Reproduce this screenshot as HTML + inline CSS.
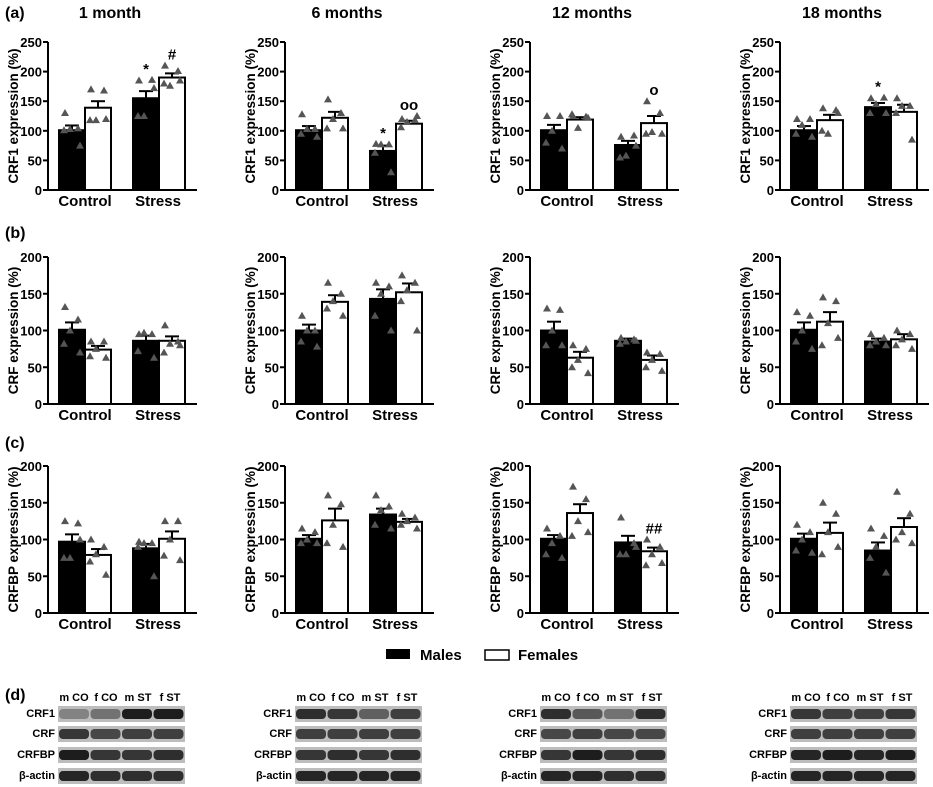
<!DOCTYPE html>
<html><head><meta charset="utf-8"><style>
body{margin:0;background:#fff}
svg{display:block;font-family:"Liberation Sans",Arial,sans-serif;font-weight:bold}
</style></head><body>
<svg id="fig" width="933" height="787" viewBox="0 0 933 787"></svg>
<script>
const ages = ["1 month","6 months","12 months","18 months"];
const rowLabels = ["(a)","(b)","(c)"];
const rowTitles = ["CRF1 expression (%)","CRF expression (%)","CRFBP expression (%)"];
const rowMax = [250,200,200];
const rowTicks = [[0,50,100,150,200,250],[0,50,100,150,200],[0,50,100,150,200]];
const groups = ["Control","Stress"];
const meansA = [[101,139,155,190],[101,122,66,112],[101,119,76,113],[101,118,140,132]];
const meansB = [[101,74,86,86],[100,139,143,152],[100,63,86,60],[101,112,85,88]];
const meansC = [[97,79,88,101],[101,126,134,124],[101,136,96,84],[101,109,85,117]];
const semA = [[8,11,12,7],[7,10,9,5],[9,4,7,12],[7,9,7,12]];
const semB = [[10,5,7,6],[8,9,13,12],[12,8,3,6],[10,13,4,7]];
const semC = [[10,8,6,10],[5,16,8,4],[5,12,9,5],[7,14,11,12]];
const ptsA = [
 [[130,104,103,101,75],[170,168,118,118,120],[185,186,125,125,172],[210,201,176,180,185]],
 [[128,103,103,95,90],[153,130,120,104,104],[78,77,77,63,30],[120,118,115,106,125]],
 [[125,125,100,80,70],[125,124,105,128,122],[90,92,58,55,75],[150,130,98,95,95]],
 [[120,120,110,95,90],[138,135,95,100,130],[155,156,145,130,130],[155,142,142,130,85]]];
const ptsB = [
 [[132,115,100,82,70],[85,85,75,65,63],[95,95,97,72,63],[107,85,82,70,80]],
 [[120,100,100,85,78],[165,150,140,130,120],[165,160,150,120,100],[175,165,155,140,100]],
 [[130,128,100,80,80],[80,75,60,50,42],[90,88,85,82,86],[70,68,60,50,45]],
 [[125,120,100,85,75],[145,140,110,80,90],[95,90,85,80,80],[100,95,88,80,75]]];
const ptsC = [
 [[125,122,75,75,100],[100,90,80,70,52],[97,95,95,90,50],[125,125,100,78,72]],
 [[115,110,100,95,95],[160,148,120,95,90],[160,145,140,120,115],[135,130,125,120,115]],
 [[115,105,95,80,75],[172,155,125,105,110],[130,95,80,80,90],[100,90,80,65,68]],
 [[120,110,100,85,82],[150,135,110,80,90],[115,105,90,75,55],[165,135,110,100,95]]];
const annotA = [["","","*","#"],["","","*","oo"],["","","","o"],["","","*",""]];
const annotB = [["","","",""],["","","",""],["","","",""],["","","",""]];
const annotC = [["","","",""],["","","",""],["","","","##"],["","","",""]];
const lanes = ["m CO","f CO","m ST","f ST"];
const proteins = ["CRF1","CRF","CRFBP","β-actin"];
const bands = [
 [[0.35,0.45,0.95,0.95],[0.8,0.7,0.75,0.75],[0.95,0.8,0.8,0.85],[0.9,0.85,0.85,0.85]],
 [[0.85,0.8,0.55,0.75],[0.75,0.75,0.75,0.75],[0.8,0.85,0.8,0.85],[0.9,0.9,0.9,0.9]],
 [[0.85,0.6,0.45,0.85],[0.7,0.75,0.7,0.7],[0.8,0.95,0.8,0.85],[0.9,0.9,0.85,0.85]],
 [[0.8,0.75,0.75,0.8],[0.75,0.75,0.75,0.75],[0.9,0.95,0.9,0.95],[0.9,0.9,0.9,0.9]]];

const means=[meansA,meansB,meansC], sems=[semA,semB,semC], pts=[ptsA,ptsB,ptsC], annots=[annotA,annotB,annotC];
const axisX=[48,285,530,780];
const rowTop=[42,257,466], rowBot=[190,404,613];
const NS="http://www.w3.org/2000/svg";
const svg=document.getElementById('fig');
function mk(tag,attrs,parent,text){const e=document.createElementNS(NS,tag);for(const k in attrs)e.setAttribute(k,attrs[k]);if(text!==undefined)e.textContent=text;(parent||svg).appendChild(e);return e;}

for(let r=0;r<3;r++){
  const lab=mk('text',{x:5,y:[18,238,448][r],'font-size':16},svg,rowLabels[r]);
  
  
  for(let c=0;c<4;c++){
    const A=axisX[c], top=rowTop[r], bot=rowBot[r], mx=rowMax[r];
    const y=v=>bot-(v/mx)*(bot-top);
    const g=mk('g',{});
    
    
    if(r===0){
      const t=mk('text',{x:A+62,y:18,'font-size':16,'text-anchor':'middle'},g,ages[c]);
      
      
    }
    const xs=[A+11,A+37,A+85,A+111];
    for(let b=0;b<4;b++){
      const m=means[r][c][b], s=sems[r][c][b];
      const rect=mk('rect',{x:xs[b],y:y(m),width:26,height:bot-y(m),fill:b%2?'#fff':'#000',stroke:'#000','stroke-width':2},g);
      
      
      const cx=xs[b]+13;
      mk('line',{x1:cx,x2:cx,y1:y(m),y2:y(m+s),stroke:'#000','stroke-width':2},g);
      mk('line',{x1:cx-7,x2:cx+7,y1:y(m+s),y2:y(m+s),stroke:'#000','stroke-width':2},g);
      const offs=[-7,6,-2,-8,8];
      pts[r][c][b].forEach((v,i)=>{
        const px=cx+offs[i], py=y(v);
        const tri=mk('polygon',{points:`${px},${py-4} ${px-4},${py+3} ${px+4},${py+3}`,fill:'#555'},g);
        
        
      });
      const an=annots[r][c][b];
      if(an){
        const tp=Math.max(m+s,...pts[r][c][b]);
        const at=mk('text',{x:cx,y:y(tp)-6,'font-size':15,'text-anchor':'middle'},g,an);
        
        
      }
    }
    mk('line',{x1:A,x2:A,y1:top,y2:bot+1,stroke:'#000','stroke-width':2},g);
    mk('line',{x1:A-1,x2:A+149,y1:bot,y2:bot,stroke:'#000','stroke-width':2},g);
    rowTicks[r].forEach(t=>{
      mk('line',{x1:A-5,x2:A,y1:y(t),y2:y(t),stroke:'#000','stroke-width':2},g);
      const tl=mk('text',{x:A-6,y:y(t)+5,'font-size':13,'text-anchor':'end'},g,t);
      
      
    });
    const ty=(top+bot)/2, tx=A-30;
    const yt=mk('text',{x:tx,y:ty,'font-size':13.5,'text-anchor':'middle',transform:`rotate(-90 ${tx} ${ty})`},g,rowTitles[r]);
    
    
    groups.forEach((gn,i)=>{
      const xl=mk('text',{x:A+37+i*73,y:bot+16,'font-size':15,'text-anchor':'middle'},g,gn);
      
      
    });
  }
}
const lg=mk('g',{});


mk('rect',{x:386,y:649,width:24,height:10,fill:'#000'},lg);
mk('text',{x:420,y:660,'font-size':15},lg,'Males');
mk('rect',{x:485,y:650,width:24,height:10,fill:'#fff',stroke:'#000','stroke-width':1.5},lg);
mk('text',{x:518,y:660,'font-size':15},lg,'Females');
const dl=mk('text',{x:5,y:700,'font-size':16},svg,'(d)');


const bandY=[706,726,747,768];
for(let c=0;c<4;c++){
  const A=axisX[c];
  const g=mk('g',{});
  
  
  lanes.forEach((l,i)=>mk('text',{x:A+26+i*32,y:701,'font-size':11,'text-anchor':'middle'},g,l));
  proteins.forEach((p,j)=>{
    mk('text',{x:A+7,y:bandY[j]+11,'font-size':11,'text-anchor':'end'},g,p);
    mk('rect',{x:A+10,y:bandY[j],width:127,height:16,fill:'#bdbdbd'},g);
    bands[c][j].forEach((d,i)=>{
      const v=Math.round(190-d*170);
      mk('rect',{x:A+11+i*31.5,y:bandY[j]+3,width:30,height:10,rx:4,fill:`rgb(${v},${v},${v})`},g);
    });
  });
}
</script>
</body></html>
